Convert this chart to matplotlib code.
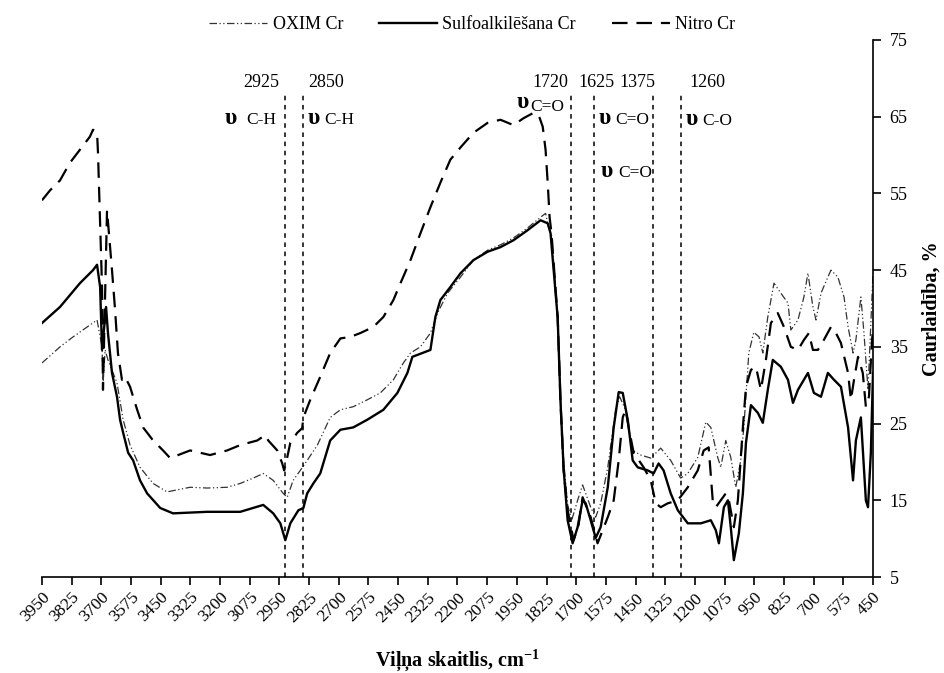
import numpy as np
import matplotlib.pyplot as plt

plt.rcParams['font.family'] = ['Liberation Serif', 'DejaVu Serif']
plt.rcParams['mathtext.fontset'] = 'custom'
plt.rcParams['mathtext.rm'] = 'Liberation Serif'
plt.rcParams['mathtext.bf'] = 'Liberation Serif:bold'

# values (wavenumber, transmittance %)
wn_nitro = [3950, 3916, 3874, 3832, 3790, 3748, 3735, 3718, 3714, 3697, 3693, 3676,
            3655, 3642, 3630, 3613, 3600, 3579, 3549, 3524, 3482, 3440, 3410, 3326,
            3242, 3170, 3115, 3043, 3010, 2997, 2959, 2938, 2930, 2917, 2904, 2875,
            2854, 2849, 2820, 2778, 2736, 2693, 2651, 2609, 2554, 2512, 2470, 2440,
            2398, 2356, 2314, 2272, 2230, 2187, 2133, 2073, 2019, 1964, 1922, 1880,
            1858, 1841, 1829, 1820, 1812, 1804, 1778, 1766, 1753, 1736, 1711, 1690,
            1673, 1639, 1610, 1567, 1542, 1521, 1504, 1492, 1479, 1458, 1416, 1386,
            1365, 1344, 1315, 1272, 1230, 1188, 1163, 1142, 1125, 1112, 1091, 1070,
            1057, 1036, 1019, 998, 985, 964, 943, 922, 901, 880, 851, 825, 796, 766,
            741, 720, 703, 682, 657, 627, 606, 585, 555, 543, 530, 513, 493, 480,
            467, 454, 450]
t_nitro = [54.1, 55.4, 56.7, 59.0, 60.7, 62.4, 63.3, 62.9, 60.3, 42.8, 29.4, 52.8,
           45.0, 39.8, 34.2, 30.7, 31.1, 29.8, 26.8, 24.5, 22.8, 21.5, 20.5, 21.5,
           20.9, 21.5, 22.2, 22.8, 23.5, 22.8, 21.5, 19.8, 18.9, 20.6, 22.5, 23.8,
           24.4, 25.8, 28.1, 31.1, 34.2, 36.1, 36.3, 36.8, 37.6, 38.9, 41.1, 43.3,
           46.3, 49.8, 53.2, 56.4, 59.4, 61.0, 62.9, 64.2, 64.6, 63.9, 64.8, 65.5,
           65.2, 63.7, 60.7, 56.4, 51.9, 49.8, 38.8, 27.8, 18.9, 13.7, 9.8, 11.8,
           15.4, 12.8, 9.4, 12.8, 15.0, 20.2, 25.8, 26.8, 24.5, 21.2, 19.3, 17.6,
           14.6, 14.1, 14.6, 15.0, 16.7, 18.9, 21.5, 21.9, 15.0, 14.1, 15.0, 15.9,
           15.0, 11.5, 15.0, 24.5, 29.8, 32.0, 32.4, 29.4, 33.3, 38.1, 39.4, 37.6,
           35.0, 34.6, 35.9, 36.8, 34.6, 34.6, 35.9, 37.6, 36.8, 35.5, 31.6, 28.1,
           30.7, 33.7, 31.6, 27.2, 28.5, 35.9, 37.2]

wn_sulfo = [3950, 3874, 3790, 3735, 3718, 3705, 3697, 3680, 3672, 3655, 3634, 3621,
            3608, 3587, 3566, 3537, 3507, 3452, 3398, 3254, 3115, 3018, 2976, 2946,
            2925, 2904, 2870, 2849, 2833, 2807, 2778, 2736, 2693, 2639, 2580, 2512,
            2453, 2411, 2390, 2314, 2293, 2272, 2230, 2187, 2133, 2073, 2019, 1964,
            1905, 1850, 1820, 1808, 1778, 1766, 1753, 1736, 1715, 1694, 1673, 1660,
            1639, 1618, 1597, 1567, 1542, 1521, 1504, 1483, 1462, 1441, 1399, 1374,
            1353, 1332, 1302, 1272, 1230, 1175, 1133, 1112, 1099, 1078, 1061, 1049,
            1036, 1015, 998, 985, 964, 935, 914, 893, 872, 838, 808, 787, 766, 724,
            699, 669, 640, 614, 585, 555, 534, 522, 501, 480, 471, 459, 450]
t_sulfo = [38.1, 40.2, 43.3, 45.0, 45.7, 42.8, 34.6, 40.2, 36.8, 31.6, 28.5, 25.5,
           23.8, 21.2, 20.2, 17.6, 15.9, 14.0, 13.3, 13.5, 13.5, 14.4, 13.3, 12.0,
           9.8, 12.0, 13.7, 14.0, 15.9, 17.2, 18.5, 22.8, 24.2, 24.5, 25.5, 26.8,
           29.0, 31.6, 33.7, 34.6, 38.9, 41.1, 42.8, 44.6, 46.3, 47.4, 48.0, 48.9,
           50.2, 51.5, 51.1, 49.8, 38.8, 27.8, 19.1, 12.4, 9.4, 11.5, 15.0, 14.6,
           12.4, 10.1, 11.5, 16.7, 24.5, 29.1, 29.0, 25.5, 20.2, 19.3, 18.9, 18.5,
           19.8, 18.9, 15.9, 13.7, 12.0, 12.0, 12.4, 11.1, 9.4, 14.1, 15.0, 11.5,
           7.2, 10.7, 15.9, 22.5, 27.4, 26.4, 25.1, 29.4, 33.3, 32.4, 30.7, 27.7,
           29.4, 31.6, 29.0, 28.5, 31.6, 30.7, 29.8, 24.5, 17.6, 22.8, 25.8, 15.0,
           14.1, 21.2, 31.6]

wn_oxim = [3950, 3874, 3819, 3718, 3697, 3693, 3684, 3672, 3634, 3608, 3579, 3537,
           3482, 3423, 3326, 3254, 3170, 3115, 3060, 3018, 2976, 2934, 2917, 2892,
           2862, 2833, 2790, 2736, 2693, 2639, 2580, 2525, 2470, 2428, 2398, 2356,
           2314, 2284, 2242, 2187, 2133, 2073, 2019, 1964, 1905, 1850, 1829, 1816,
           1804, 1778, 1766, 1753, 1736, 1719, 1694, 1673, 1639, 1618, 1597, 1567,
           1534, 1517, 1492, 1462, 1428, 1386, 1344, 1302, 1260, 1230, 1188, 1154,
           1133, 1104, 1091, 1070, 1049, 1028, 1007, 994, 973, 952, 930, 914, 893,
           867, 838, 808, 796, 766, 741, 724, 703, 690, 669, 640, 627, 598, 572,
           555, 534, 522, 501, 488, 471, 459, 450]
t_oxim = [32.9, 35.0, 36.3, 38.5, 35.0, 30.0, 34.6, 33.3, 30.3, 25.5, 22.2, 19.3,
          17.2, 16.1, 16.7, 16.6, 16.7, 17.2, 17.9, 18.5, 17.6, 15.9, 15.4, 17.6,
          18.9, 20.2, 22.2, 25.8, 26.8, 27.2, 28.1, 29.0, 30.7, 32.9, 34.2, 35.0,
          36.8, 39.4, 42.0, 44.1, 46.3, 47.6, 48.3, 49.2, 50.5, 51.9, 52.4, 50.6,
          49.6, 39.1, 28.3, 20.2, 14.4, 12.4, 15.0, 17.0, 14.1, 12.8, 14.6, 19.3,
          26.8, 28.5, 26.8, 21.5, 20.9, 20.5, 21.8, 20.2, 17.9, 18.5, 20.6, 25.2,
          24.5, 20.6, 19.3, 22.8, 20.6, 16.7, 20.2, 24.5, 34.2, 36.9, 36.3, 34.2,
          38.9, 43.3, 42.0, 40.7, 37.2, 38.5, 41.5, 44.6, 40.2, 38.5, 42.0, 44.1,
          45.0, 44.1, 41.5, 37.6, 34.2, 35.9, 41.5, 36.8, 29.4, 38.1, 44.6]

band_wn = [2925, 2850, 1720, 1625, 1375, 1260]
band_text = ['2925', '2850', '1720', '1625', '1375', '1260']
band_text_x = [3027, 2752, 1808, 1614, 1441, 1146]

# vibration labels: upsilon position, bond text, bond position
vib_ups_x = [3154, 2807, 1926, 1580, 1572, 1213]
vib_ups_y = [64.8, 64.8, 66.8, 64.8, 57.8, 64.6]
vib_bond = ['C-H', 'C-H', 'C=O', 'C=O', 'C=O', 'C-O']
vib_bond_x = [3090, 2762, 1892, 1534, 1524, 1168]
vib_bond_y = [64.6, 64.6, 66.2, 64.6, 57.6, 64.4]


def main():
    fig = plt.figure(figsize=(9.45, 6.73), dpi=100)
    ax = fig.add_axes([0.0444, 0.1426, 0.8794, 0.798])

    l1, = ax.plot(wn_oxim, t_oxim, color='#333333', lw=0.9,
                  linestyle=(0, (6, 2, 1, 2, 1, 2)), label='OXIM Cr')
    l2, = ax.plot(wn_sulfo, t_sulfo, color='black', lw=1.7,
                  label='Sulfoalkilēšana Cr')
    l3, = ax.plot(wn_nitro, t_nitro, color='black', lw=1.6,
                  linestyle=(0, (7, 4)), label='Nitro Cr')

    ax.vlines(band_wn, 5, 68.2, colors='black', lw=1.1, linestyles=(0, (3, 3)))
    for x, s in zip(band_text_x, band_text):
        ax.text(x, 69.4, s, ha='center', va='center', fontsize=13)
    for ux, uy, b, bx, by in zip(vib_ups_x, vib_ups_y, vib_bond, vib_bond_x, vib_bond_y):
        ax.text(ux, uy, 'υ', ha='center', va='center', fontsize=17, fontweight='bold')
        ax.text(bx, by, b, ha='left', va='center', fontsize=12.5)

    ax.set_xlim(3950, 450)
    ax.set_ylim(5, 75)
    ax.set_xticks(np.arange(3950, 449, -125))
    ax.set_yticks(np.arange(5, 76, 10))
    plt.setp(ax.get_xticklabels(), rotation=45, ha='right', rotation_mode='anchor',
             fontsize=12.5)
    ax.yaxis.tick_right()
    ax.yaxis.set_label_position('right')
    ax.tick_params(axis='y', labelsize=13, length=6, width=1.2, direction='out', pad=6)
    ax.tick_params(axis='x', length=6, width=1.2, direction='out', pad=3)
    ax.spines['left'].set_visible(False)
    ax.spines['top'].set_visible(False)
    ax.spines['right'].set_linewidth(1.2)
    ax.spines['bottom'].set_linewidth(1.2)

    ax.set_xlabel(r'Viļņa skaitlis, cm$^{\mathbf{-1}}$', fontsize=14.5,
                  fontweight='bold', labelpad=16)
    ax.set_ylabel('Caurlaidība, %', fontsize=14.5, fontweight='bold', labelpad=10)

    fig.legend(handles=[l1, l2, l3], loc='upper center', bbox_to_anchor=(0.5, 1.0),
               ncol=3, frameon=False, fontsize=13, handlelength=3.2,
               columnspacing=2.0, handletextpad=0.3)

    fig.savefig('out.png', dpi=100)


if __name__ == '__main__':
    main()
